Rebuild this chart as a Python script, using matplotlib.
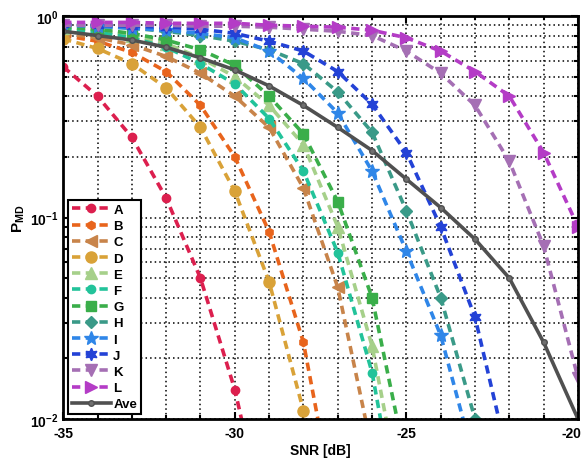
import numpy as np
import matplotlib
matplotlib.use("Agg")
import matplotlib.pyplot as plt
from matplotlib.ticker import MultipleLocator, FixedLocator, FixedFormatter, LogLocator, NullFormatter

plt.rcParams['font.family'] = ['Liberation Sans', 'DejaVu Sans']
plt.rcParams['font.weight'] = 'bold'
plt.rcParams['mathtext.fontset'] = 'custom'
plt.rcParams['mathtext.rm'] = 'Liberation Sans'
plt.rcParams['mathtext.bf'] = 'Liberation Sans:bold'

# SNR [dB] (each curve starts at -35 and uses as many points as listed)
snr = np.arange(-35, -19, 1)
xtick_val = [-35, -30, -25, -20]

A = [0.56, 0.40, 0.25, 0.125, 0.05, 0.014, 0.0025]
B = [0.80, 0.75, 0.66, 0.53, 0.36, 0.20, 0.085, 0.024, 0.003]
C = [0.82, 0.78, 0.72, 0.63, 0.52, 0.40, 0.28, 0.14, 0.045, 0.007]
D = [0.77, 0.69, 0.58, 0.44, 0.28, 0.135, 0.048, 0.011, 0.001]
E = [0.87, 0.85, 0.80, 0.73, 0.62, 0.50, 0.36, 0.23, 0.09, 0.023, 0.003]
F = [0.86, 0.83, 0.78, 0.70, 0.58, 0.46, 0.31, 0.17, 0.067, 0.017, 0.002]
G = [0.88, 0.86, 0.82, 0.76, 0.68, 0.57, 0.40, 0.26, 0.12, 0.04, 0.006]
H = [0.90, 0.89, 0.87, 0.84, 0.80, 0.75, 0.68, 0.58, 0.42, 0.265, 0.108, 0.04, 0.01]
I = [0.90, 0.89, 0.87, 0.85, 0.82, 0.78, 0.67, 0.49, 0.33, 0.17, 0.068, 0.026, 0.006]
J = [0.91, 0.90, 0.89, 0.88, 0.86, 0.82, 0.75, 0.67, 0.53, 0.365, 0.21, 0.09, 0.032, 0.006]
K = [0.90, 0.90, 0.90, 0.90, 0.89, 0.89, 0.88, 0.86, 0.84, 0.80, 0.67, 0.52, 0.36, 0.19, 0.072, 0.016]
L = [0.93, 0.93, 0.93, 0.92, 0.92, 0.92, 0.90, 0.89, 0.88, 0.85, 0.78, 0.67, 0.53, 0.40, 0.21, 0.09]
Ave = [0.84, 0.80, 0.76, 0.70, 0.62, 0.54, 0.45, 0.36, 0.28, 0.215, 0.155, 0.112, 0.078, 0.05, 0.024, 0.01]

curve_names = ['A', 'B', 'C', 'D', 'E', 'F', 'G', 'H', 'I', 'J', 'K', 'L']
curves = [A, B, C, D, E, F, G, H, I, J, K, L]
colori = ['#dc1f4e', '#e8641c', '#c8844a', '#d9a238', '#a6d08a', '#22c39a',
          '#3aae4a', '#3a9a88', '#2f86e8', '#2342d6', '#a56fb4', '#b43cc6']
marker = ['o', 'h', '<', 'o', '^', 'o', 's', 'D', '*', (6, 1, 0), 'v', '>']
msize = [6, 6, 8, 8, 8, 6, 7, 6, 10, 9, 9, 9]

fig = plt.figure(figsize=(5.85, 4.6), dpi=100)
ax = fig.add_axes([0.108, 0.087, 0.880, 0.876])

for nome, y, c, m, s in zip(curve_names, curves, colori, marker, msize):
    ax.plot(snr[:len(y)], y, color=c, lw=2.6, dashes=(2.3, 1.5),
            marker=m, markersize=s, markeredgecolor=c, markerfacecolor=c,
            label=nome)

ax.plot(snr[:len(Ave)], Ave, color='#505050', lw=2.6, marker='o', markersize=4,
        markerfacecolor='#707070', markeredgecolor='#505050', label='Ave')

ax.set_yscale('log')
ax.set_xlim(-35, -20)
ax.set_ylim(0.01, 1)

ax.xaxis.set_major_locator(FixedLocator(xtick_val))
ax.xaxis.set_minor_locator(MultipleLocator(1))
ax.xaxis.set_major_formatter(NullFormatter())
ax.yaxis.set_major_locator(FixedLocator([0.01, 0.1, 1]))
ax.yaxis.set_major_formatter(FixedFormatter([r'$\mathbf{10^{-2}}$', r'$\mathbf{10^{-1}}$', r'$\mathbf{10^{0}}$']))
ax.yaxis.set_minor_locator(LogLocator(base=10, subs=np.arange(2, 10)))
ax.yaxis.set_minor_formatter(NullFormatter())

# x tick labels as texts, the last one pulled in so it stays inside the figure
for v in xtick_val:
    dx = -0.2 if v == xtick_val[-1] else 0
    ax.text(v + dx, -0.018, str(v), transform=ax.get_xaxis_transform(),
            ha='center', va='top', fontsize=10, fontweight='bold')

ax.grid(True, which='both', color='black', linestyle=(0, (1, 2)), linewidth=1.1)
ax.tick_params(which='both', direction='in', top=True, right=True, width=1.5, labelsize=10)
ax.tick_params(which='major', length=5)
ax.tick_params(which='minor', length=3)
for sp in ax.spines.values():
    sp.set_linewidth(2)

ax.set_xlabel('SNR [dB]', fontsize=10, fontweight='bold', labelpad=14)
ax.set_ylabel(r'$\mathbf{P_{MD}}$', fontsize=11, labelpad=2)

leg = ax.legend(loc='lower left', bbox_to_anchor=(0.005, 0.005), fontsize=9.5,
                fancybox=False, framealpha=1, edgecolor='black',
                handlelength=2.9, labelspacing=0.3, borderpad=0.3,
                handletextpad=0.2, borderaxespad=0.2)
leg.get_frame().set_linewidth(1.5)

plt.savefig('out.png', dpi=100)
